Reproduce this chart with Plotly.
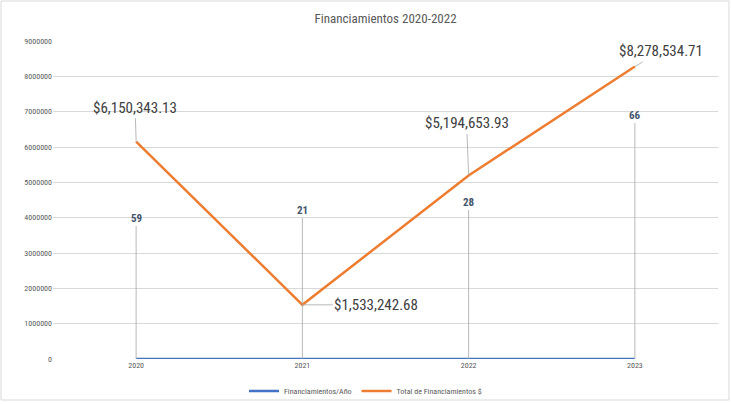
import plotly.graph_objects as go

years = ["2020", "2021", "2022", "2023"]
financiamientos = [59, 21, 28, 66]
totales = [6150343.13, 1533242.68, 5194653.93, 8278534.71]
total_labels = ["$6,150,343.13", "$1,533,242.68", "$5,194,653.93", "$8,278,534.71"]
y_ticks = [0, 1000000, 2000000, 3000000, 4000000, 5000000, 6000000, 7000000, 8000000, 9000000]

W, H = 731, 404
L, R, T, B = 53, 13, 41, 45
pw, ph = W - L - R, H - T - B

font_fam = "Liberation Sans Narrow, Roboto Condensed, Open Sans, sans-serif"
xs = list(range(len(years)))

fig = go.Figure()
fig.add_trace(go.Scatter(x=xs, y=financiamientos, mode="lines", name="Financiamientos/Año",
                         line=dict(color="#4472C4", width=2.5)))
fig.add_trace(go.Scatter(x=xs, y=totales, mode="lines", name="Total de Financiamientos $",
                         line=dict(color="#ED7D31", width=2.5)))

count_off = [(0, -141), (0, -149), (0, -157), (0, -244)]
for xi, v, (ax, ay) in zip(xs, financiamientos, count_off):
    fig.add_annotation(x=xi, y=v, text="<b>%d</b>" % v, showarrow=True, arrowhead=0,
                       arrowwidth=0.8, arrowcolor="#A6A6A6", ax=ax, ay=ay,
                       font=dict(family=font_fam, size=11, color="#44546A"))

total_off = [(-1, -34), (74, 0), (-2, -52), (26, -15)]
for xi, v, lab, (ax, ay) in zip(xs, totales, total_labels, total_off):
    fig.add_annotation(x=xi, y=v, text=lab, showarrow=True, arrowhead=0,
                       arrowwidth=0.8, arrowcolor="#A6A6A6", ax=ax, ay=ay,
                       font=dict(family=font_fam, size=15, color="#404040"))

fig.add_shape(type="rect", xref="paper", yref="paper",
              x0=(1 - L) / pw, x1=(729 - L) / pw,
              y0=(H - B - 400) / ph, y1=(H - B - 1) / ph,
              line=dict(color="#D9D9D9", width=1), fillcolor="rgba(0,0,0,0)", layer="below")

fig.update_layout(
    width=W, height=H,
    margin=dict(l=L, r=R, t=T, b=B, autoexpand=False),
    paper_bgcolor="white", plot_bgcolor="white",
    title=dict(text="Financiamientos 2020-2022", x=0.5, xref="paper", y=1 - 18 / H, yanchor="middle",
               font=dict(family=font_fam, size=13, color="#595959")),
    font=dict(family=font_fam, color="#595959"),
    showlegend=True,
    legend=dict(orientation="h", x=0.5, xanchor="center", xref="container", y=(404 - 391) / 404,
                yref="container", yanchor="middle", font=dict(size=8, color="#595959"),
                bgcolor="rgba(0,0,0,0)", itemwidth=30),
    xaxis=dict(range=[-0.5, len(years) - 0.5], tickvals=xs, ticktext=years, automargin=False,
               showgrid=False, showline=False, zeroline=False,
               tickfont=dict(size=8, color="#595959"), ticks="", ticklen=0),
    yaxis=dict(range=[0, 9000000], tickvals=y_ticks, ticktext=[str(v) for v in y_ticks],
               automargin=False,
               showgrid=True, gridcolor="#D9D9D9", gridwidth=1, zeroline=False,
               tickfont=dict(size=8, color="#595959"), ticks="", showline=False),
)

fig.write_html("out.html", config={"displayModeBar": False},
               post_script="document.body.style.margin='0';document.body.style.overflow='hidden';")
